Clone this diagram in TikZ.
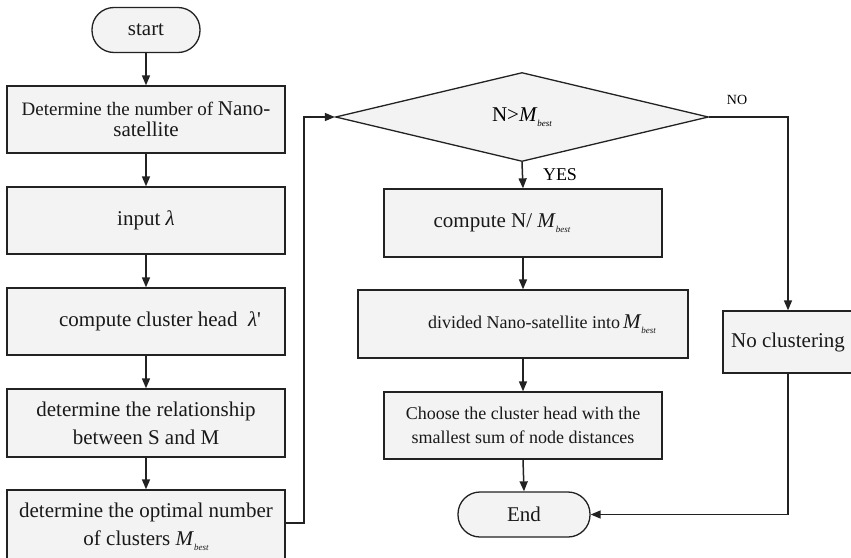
\documentclass[tikz,border=0pt]{standalone}
\usepackage{fontspec}
\setmainfont{Liberation Serif}
\usetikzlibrary{shapes.geometric,arrows.meta}
\newcommand{\fs}[1]{\fontsize{#1}{#1}\selectfont}
\newcommand{\Mb}{\textit{M}\raisebox{-0.55ex}{\fontsize{9}{9}\selectfont\itshape best}}
\definecolor{boxfill}{HTML}{F3F3F3}
\definecolor{lineclr}{HTML}{222222}
\begin{document}
\begin{tikzpicture}[x=1pt,y=-1pt,
  box/.style={draw=lineclr,line width=1.3pt,fill=boxfill,rectangle,inner sep=0pt,align=center,font=\fs{21},text=black!90},
  term/.style={box,rounded corners=22pt},
  dec/.style={draw=lineclr,line width=1.3pt,fill=boxfill,diamond,inner sep=0pt,aspect=4.2,font=\fs{21}},
  conn/.style={draw=lineclr,line width=1.5pt,-{Triangle[width=8pt,length=10pt]}},
  lbl/.style={inner sep=0pt,font=\fs{18}}]
\useasboundingbox (0,0) rectangle (851,557);
% left column
\node[term,minimum width=108pt,minimum height=45pt] (start) at (146,30) {start};
\node[box,minimum width=278pt,minimum height=67pt] (b1) at (146,119.5)
  {\fontsize{19}{27}\selectfont Determine the number of {\fs{21}Nano-}\\{\fs{21}satellite}};
\node[box,minimum width=278pt,minimum height=67pt] (b2) at (146,220.5) {input \textit{λ}};
\node[box,minimum width=278pt,minimum height=67pt] (b3) at (146,321.5) {\hspace*{28pt}compute cluster head\ \ \textit{λ}\textquotesingle};
\node[box,minimum width=278pt,minimum height=68pt,font=\fontsize{21}{28}\selectfont] (b4) at (146,423) {determine the relationship\\between S and M};
\node[box,minimum width=278pt,minimum height=74pt,font=\fontsize{21}{28}\selectfont] (b5) at (146,527) {determine the optimal number\\ of clusters \Mb};
% right column
\node[dec,minimum width=373pt,minimum height=89pt] (d) at (522,117) {N>\Mb};
\node[box,minimum width=278pt,minimum height=68pt] (b6) at (523,223) {\hspace*{-42pt}compute N/ \Mb};
\node[box,minimum width=330pt,minimum height=68pt,font=\fs{18}] (b7) at (523,324) {\hspace*{38pt}divided Nano-satellite into\,{\fs{21}\Mb}};
\node[box,minimum width=278pt,minimum height=67pt,font=\fontsize{18}{24}\selectfont] (b8) at (523,425.5) {Choose the cluster head with the\\smallest sum of node distances};
\node[term,minimum width=132pt,minimum height=45pt] (end) at (524,514.5) {End};
\node[box,minimum width=130pt,minimum height=62pt] (nc) at (788,342) {No clustering};
% labels
\node[lbl] (yes) at (560,175) {YES};
\node[lbl,font=\fs{14}] (no) at (737,100) {NO};
% connectors
\draw[conn] (start) -- (b1);
\draw[conn] (b1) -- (b2);
\draw[conn] (b2) -- (b3);
\draw[conn] (b3) -- (b4);
\draw[conn] (b4) -- (b5);
\coordinate (c1) at (304,523);
\coordinate (c2) at (304,117);
\draw[conn] (b5.east |- c1) -- (c1) -- (c2) -- (d.west);
\draw[conn] (d.south) -- (b6.north);
\coordinate (c3) at (788,117);
\draw[conn] (d.east) -- (c3) -- (nc.north);
\draw[conn] (b6) -- (b7);
\draw[conn] (b7) -- (b8);
\draw[conn] (b8.south) -- (end.north);
\coordinate (c4) at (788,514.5);
\draw[conn] (nc.south) -- (c4) -- (end.east);
\end{tikzpicture}
\end{document}
